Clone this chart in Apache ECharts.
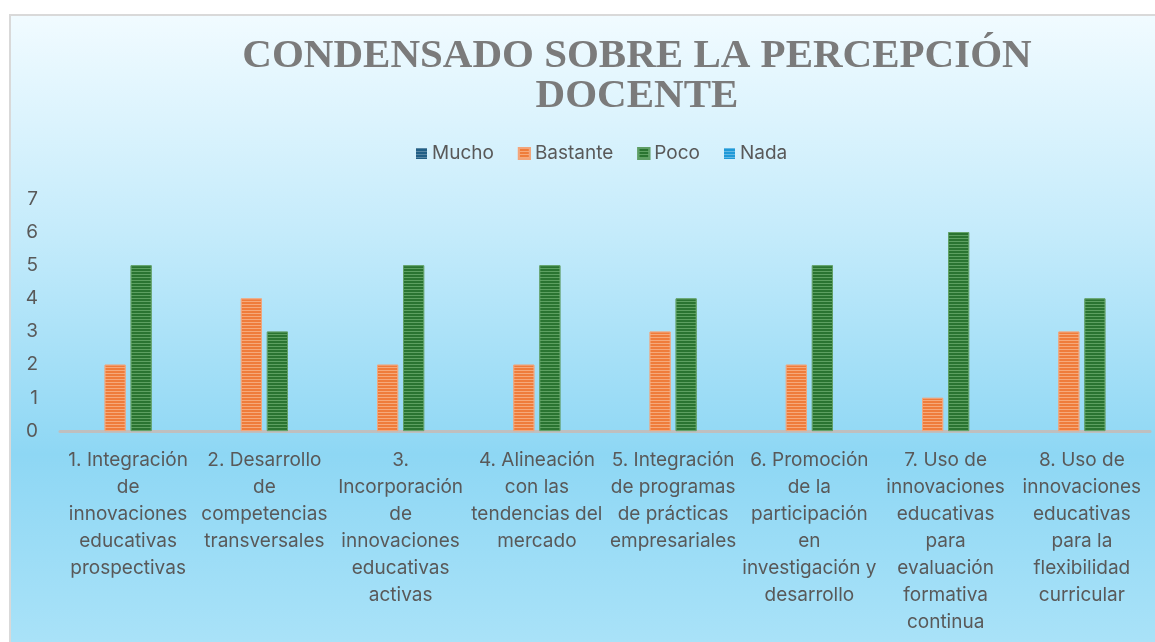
<!DOCTYPE html>
<html>
<head>
<meta charset="utf-8">
<script src="https://cdn.jsdelivr.net/npm/echarts@6/dist/echarts.min.js"></script>
<style>
  html, body { margin: 0; padding: 0; background: #ffffff; overflow: hidden; }
  #chart {
    position: absolute; left: 9px; top: 14px;
    width: 1144px; height: 626px;
    border-left: 2px solid #d9d9d9; border-top: 2px solid #d9d9d9;
  }
</style>
</head>
<body>
<div id="chart"></div>
<script>
// categories (line breaks)
var categories = [
  '1. Integración\nde\ninnovaciones\neducativas\nprospectivas',
  '2. Desarrollo\nde\ncompetencias\ntransversales',
  '3.\nIncorporación\nde\ninnovaciones\neducativas\nactivas',
  '4. Alineación\ncon las\ntendencias del\nmercado',
  '5. Integración\nde programas\nde prácticas\nempresariales',
  '6. Promoción\nde la\nparticipación\nen\ninvestigación y\ndesarrollo',
  '7. Uso de\ninnovaciones\neducativas\npara\nevaluación\nformativa\ncontinua',
  '8. Uso de\ninnovaciones\neducativas\npara la\nflexibilidad\ncurricular'
];
var seriesNames = ['Mucho', 'Bastante', 'Poco', 'Nada'];
var mucho    = [0, 0, 0, 0, 0, 0, 0, 0];
var bastante = [2, 4, 2, 2, 3, 2, 1, 3];
var poco     = [5, 3, 5, 5, 4, 5, 6, 4];
var nada     = [0, 0, 0, 0, 0, 0, 0, 0];
var yTicks = [0, 1, 2, 3, 4, 5, 6, 7];

var colors = ['#215f86', '#ef7c3b', '#2a7431', '#1f9ad8'];
var stripeColors = ['rgba(255,255,255,0.25)', 'rgba(255,225,200,0.45)', 'rgba(170,225,170,0.4)', 'rgba(255,255,255,0.3)'];
var borders = ['#215f86', '#f3a57a', '#5f9e65', '#1f9ad8'];

var textFont = 'Inter';
var textColor = '#595959';

function makeSeries(name, values, i) {
  // zero-valued series get no outline so nothing shows on the axis
  var hasBars = values.some(function (v) { return v > 0; });
  return {
    name: name,
    type: 'bar',
    data: values,
    barWidth: 21,
    barGap: '24%',
    itemStyle: {
      color: colors[i],
      borderColor: borders[i],
      borderWidth: hasBars ? 0.8 : 0,
      decal: {
        symbol: 'rect',
        symbolSize: 1,
        dashArrayX: [1, 0],
        dashArrayY: [1, 2],
        rotation: 0,
        color: stripeColors[i]
      }
    }
  };
}

var chart = echarts.init(document.getElementById('chart'), null, { renderer: 'canvas' });
chart.setOption({
  animation: false,
  backgroundColor: {
    type: 'linear', x: 0, y: 0, x2: 0, y2: 1,
    colorStops: [
      { offset: 0, color: '#f1fbff' },
      { offset: 0.35, color: '#c4ebfb' },
      { offset: 0.7, color: '#8ed7f4' },
      { offset: 1, color: '#a9e2f8' }
    ]
  },
  title: {
    text: 'CONDENSADO SOBRE LA PERCEPCIÓN\nDOCENTE',
    left: 621,
    top: 15,
    textAlign: 'center',
    textStyle: {
      fontFamily: 'Liberation Serif',
      fontWeight: 'bold',
      fontSize: 41,
      lineHeight: 40,
      color: '#7b7b7b'
    }
  },
  legend: {
    data: seriesNames,
    left: 400,
    top: 123,
    itemWidth: 11,
    itemHeight: 11,
    itemGap: 24,
    icon: 'rect',
    textStyle: { fontFamily: textFont, fontSize: 19, color: textColor }
  },
  grid: { left: 49, right: 5, top: 183, bottom: 211, containLabel: false },
  xAxis: {
    type: 'category',
    data: categories,
    axisLine: { lineStyle: { color: '#bfbfbf', width: 3 } },
    axisTick: { show: false },
    axisLabel: {
      interval: 0,
      margin: 16,
      fontFamily: textFont,
      fontSize: 19,
      lineHeight: 27,
      color: textColor,
      align: 'center'
    }
  },
  yAxis: {
    type: 'value',
    min: yTicks[0],
    max: yTicks[yTicks.length - 1],
    interval: 1,
    axisLine: { show: false },
    axisTick: { show: false },
    splitLine: { show: false },
    axisLabel: { margin: 22, fontFamily: textFont, fontSize: 19, color: textColor }
  },
  series: [
    makeSeries('Mucho', mucho, 0),
    makeSeries('Bastante', bastante, 1),
    makeSeries('Poco', poco, 2),
    makeSeries('Nada', nada, 3)
  ]
});
</script>
</body>
</html>
